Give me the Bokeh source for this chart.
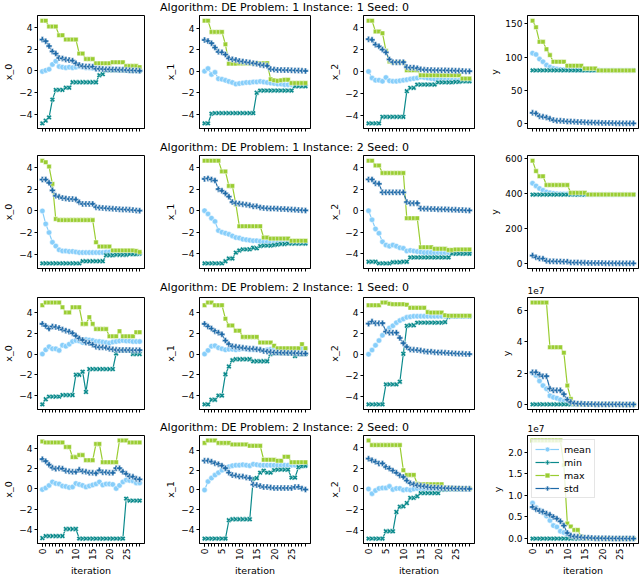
import numpy as np
from bokeh.plotting import figure
from bokeh.models import Range1d, FixedTicker, Label
from bokeh.layouts import column, row
from bokeh.embed import file_html
from bokeh.resources import INLINE

FONT = "DejaVu Sans"

iterations = [0, 1, 2, 3, 4, 5, 6, 7, 8, 9, 10, 11, 12, 13, 14, 15, 16, 17, 18, 19,
              20, 21, 22, 23, 24, 25, 26, 27, 28, 29]
x_tick_labels = ["0", "5", "10", "15", "20", "25"]
series_names = ["mean", "min", "max", "std"]
series_colors = ["#87cefa", "#0b8a8c", "#9acd32", "#1f6aa8"]
row_titles = ["Algorithm: DE Problem: 1 Instance: 1 Seed: 0",
              "Algorithm: DE Problem: 1 Instance: 2 Seed: 0",
              "Algorithm: DE Problem: 2 Instance: 1 Seed: 0",
              "Algorithm: DE Problem: 2 Instance: 2 Seed: 0"]
y_labels = ["x_0", "x_1", "x_2", "y"]

# ---------------- Row 1: Problem 1, Instance 1 ----------------
r1_x0_mean = [-0.05, 0.05, 0.15, 0.6, 0.9, 0.4, 0.35, 0.3, 0.35, 0.3,
              0.35, 0.4, 0.35, 0.3, 0.3, 0.25, 0.2, 0.2, 0.18, 0.16,
              0.15, 0.15, 0.14, 0.13, 0.12, 0.12, 0.1, 0.1, 0.1, 0.08]
r1_x0_min = [-4.85, -4.6, -4.3, -2.65, -1.75, -1.75, -1.75, -1.55, -1.55, -1.05,
             -1.05, -1.05, -1.05, -1.05, -1.05, -1.05, -1.05, -0.4, -0.3, 0.05,
             0.05, 0.05, 0.05, 0.05, 0.05, 0.04, 0.04, 0.03, 0.03, 0.02]
r1_x0_max = [4.65, 4.65, 4.1, 4.1, 4.1, 3.3, 3.3, 2.9, 2.9, 2.9,
             2.9, 1.6, 1.6, 1.1, 1.1, 1.1, 0.7, 0.7, 0.7, 0.7,
             0.7, 0.8, 0.8, 0.8, 0.8, 0.45, 0.45, 0.45, 0.45, 0.35]
r1_x0_std = [2.9, 2.75, 2.3, 1.8, 1.6, 1.2, 1.15, 1.05, 1.0, 0.95,
             0.7, 0.55, 0.45, 0.4, 0.4, 0.38, 0.2, 0.2, 0.18, 0.15,
             0.15, 0.12, 0.12, 0.1, 0.1, 0.08, 0.06, 0.05, 0.03, 0.01]

r1_x1_mean = [0.0, 0.25, -0.3, -0.1, -0.7, -0.75, -0.85, -0.95, -1.05, -1.2,
              -1.15, -1.1, -1.05, -1.05, -1.0, -1.0, -0.95, -1.0, -1.05, -1.1,
              -1.15, -1.2, -1.2, -1.25, -1.25, -1.25, -1.3, -1.3, -1.3, -1.3]
r1_x1_min = [-4.85, -4.85, -3.95, -3.9, -3.9, -3.9, -3.9, -3.9, -3.9, -3.9,
             -3.9, -3.9, -3.9, -3.9, -3.9, -2.0, -1.8, -1.8, -1.8, -1.8,
             -1.8, -1.8, -1.8, -1.8, -1.8, -1.8, -1.4, -1.4, -1.4, -1.4]
r1_x1_max = [4.7, 4.7, 3.65, 3.65, 3.65, 3.65, 2.5, 0.7, 0.7, 0.7,
             0.72, 0.72, 0.72, 0.72, 0.75, 0.75, 0.75, 0.75, 0.75, -0.75,
             -0.85, -0.9, -0.85, -0.8, -0.8, -1.1, -1.1, -1.1, -1.1, -1.1]
r1_x1_std = [2.9, 2.8, 2.6, 2.2, 1.8, 1.75, 1.55, 1.2, 1.1, 1.05,
             0.95, 0.9, 0.85, 0.8, 0.75, 0.7, 0.6, 0.55, 0.5, 0.2,
             0.15, 0.12, 0.12, 0.1, 0.1, 0.08, 0.07, 0.06, 0.04, 0.02]

r1_x2_mean = [0.0, -0.6, -0.8, -0.8, -0.9, -0.55, -0.85, -0.9, -0.9, -0.85,
              -0.8, -0.75, -0.7, -0.65, -0.6, -0.5, -0.55, -0.6, -0.65, -0.7,
              -0.72, -0.75, -0.78, -0.8, -0.8, -0.82, -0.83, -0.85, -0.85, -0.85]
r1_x2_min = [-4.75, -4.75, -4.75, -4.75, -4.15, -4.15, -4.15, -4.15, -4.15, -4.15,
             -4.15, -1.8, -1.5, -1.5, -1.2, -1.2, -1.2, -1.2, -1.2, -1.2,
             -1.0, -1.0, -1.0, -1.0, -1.0, -0.95, -0.95, -0.9, -0.9, -0.9]
r1_x2_max = [4.65, 4.65, 3.65, 3.65, 3.5, 1.9, 0.9, 0.85, 0.85, 0.85,
             0.85, 0.1, 0.1, 0.1, 0.1, -0.35, -0.35, -0.35, -0.35, -0.35,
             -0.35, -0.35, -0.35, -0.35, -0.35, -0.35, -0.35, -0.65, -0.65, -0.65]
r1_x2_std = [2.95, 2.9, 2.45, 2.3, 2.0, 1.75, 1.1, 0.85, 0.85, 0.85,
             0.85, 0.4, 0.35, 0.35, 0.3, 0.2, 0.15, 0.14, 0.13, 0.12,
             0.12, 0.1, 0.1, 0.09, 0.08, 0.07, 0.06, 0.05, 0.03, 0.02]

r1_y_mean = [106, 104, 97, 93, 88, 85, 83, 82, 81.5, 81,
             80.8, 80.6, 80.5, 80.4, 80.3, 80.3, 80.2, 80.2, 80.1, 80.1,
             80, 80, 80, 80, 80, 80, 80, 80, 80, 80]
r1_y_min = [80, 80, 80, 80, 80, 80, 80, 80, 80, 80,
            80, 80, 80, 80, 80, 80, 80, 80, 80, 80,
            80, 80, 80, 80, 80, 80, 80, 80, 80, 80]
r1_y_max = [155, 145, 123, 123, 112, 103, 93, 93, 93, 93,
            87, 87, 87, 87, 87, 83, 83, 83, 83, 80,
            80, 80, 80, 80, 80, 80, 80, 80, 80, 80]
r1_y_std = [16, 15, 11, 10, 9, 7, 5, 4, 4, 3.5,
            3, 2.8, 2.5, 2.2, 2, 1.8, 1.5, 1.3, 1.2, 1,
            0.8, 0.7, 0.6, 0.5, 0.4, 0.3, 0.3, 0.2, 0.1, 0.1]

# ---------------- Row 2: Problem 1, Instance 2 ----------------
r2_x0_mean = [0.0, -1.2, -2.0, -2.9, -3.25, -3.6, -3.7, -3.7, -3.75, -3.75,
              -3.8, -3.85, -3.85, -3.85, -3.85, -3.85, -3.85, -3.85, -3.85, -3.8,
              -3.8, -3.85, -3.85, -3.9, -3.9, -3.9, -3.9, -3.95, -3.95, -3.95]
r2_x0_min = [-4.85, -4.85, -4.85, -4.85, -4.85, -4.85, -4.85, -4.85, -4.85, -4.85,
             -4.85, -4.85, -4.65, -4.65, -4.65, -4.65, -4.65, -4.65, -4.65, -4.1,
             -4.1, -4.1, -4.05, -4.05, -4.05, -4.05, -4.0, -4.0, -4.0, -3.95]
r2_x0_max = [4.65, 4.5, 4.1, 2.5, -0.75, -0.85, -0.85, -0.85, -0.85, -0.85,
             -0.85, -0.85, -0.85, -0.85, -0.85, -0.85, -2.9, -3.3, -3.3, -3.3,
             -3.3, -3.65, -3.65, -3.65, -3.65, -3.65, -3.65, -3.65, -3.7, -3.8]
r2_x0_std = [2.9, 2.9, 2.6, 1.9, 1.4, 1.3, 1.2, 1.15, 1.1, 1.1,
             1.05, 0.8, 0.65, 0.65, 0.65, 0.65, 0.35, 0.3, 0.28, 0.25,
             0.22, 0.2, 0.18, 0.16, 0.14, 0.12, 0.1, 0.08, 0.05, 0.02]

r2_x1_mean = [0.0, -0.3, -0.7, -1.0, -1.85, -2.0, -2.1, -2.2, -2.35, -2.5,
              -2.55, -2.65, -2.7, -2.75, -2.8, -2.8, -2.85, -2.9, -2.9, -2.9,
              -2.92, -2.95, -2.95, -2.95, -2.95, -2.97, -3.0, -3.0, -3.0, -3.0]
r2_x1_min = [-4.9, -4.9, -4.9, -4.9, -4.9, -4.9, -4.7, -4.45, -4.45, -3.9,
             -3.7, -3.6, -3.6, -3.6, -3.45, -3.5, -3.3, -3.25, -3.25, -3.25,
             -3.2, -3.15, -3.1, -3.1, -3.05, -3.05, -3.05, -3.05, -3.05, -3.05]
r2_x1_max = [4.65, 4.65, 4.65, 4.65, 4.65, 3.65, 3.65, 2.3, 2.3, 0.6,
             -1.45, -1.45, -1.45, -1.45, -1.45, -1.45, -1.45, -2.5, -2.5, -2.6,
             -2.6, -2.6, -2.6, -2.6, -2.6, -2.8, -2.8, -2.8, -2.8, -2.8]
r2_x1_std = [2.95, 3.0, 2.9, 2.8, 2.0, 1.85, 1.6, 1.3, 0.8, 0.7,
             0.65, 0.6, 0.55, 0.5, 0.4, 0.4, 0.3, 0.25, 0.22, 0.2,
             0.2, 0.18, 0.16, 0.15, 0.12, 0.1, 0.08, 0.06, 0.04, 0.02]

r2_x2_mean = [0.0, -0.85, -1.7, -2.1, -2.9, -3.2, -3.3, -3.2, -3.3, -3.45,
              -3.5, -3.75, -3.7, -3.75, -3.8, -3.85, -3.9, -3.9, -3.9, -3.9,
              -3.9, -3.9, -3.9, -3.9, -3.9, -3.92, -3.93, -3.95, -3.95, -3.95]
r2_x2_min = [-4.75, -4.75, -4.75, -4.9, -4.9, -4.9, -4.9, -4.8, -4.8, -4.8,
             -4.75, -4.75, -4.35, -4.35, -4.35, -4.35, -4.35, -4.35, -4.35, -4.35,
             -4.35, -4.35, -4.35, -4.35, -4.0, -4.0, -4.0, -4.0, -4.0, -4.0]
r2_x2_max = [4.65, 4.65, 4.2, 4.2, 3.5, 3.5, 3.5, 3.5, 3.5, 3.5,
             3.5, -0.7, -0.7, -0.7, -0.7, -3.4, -3.4, -3.4, -3.4, -3.55,
             -3.55, -3.55, -3.55, -3.65, -3.65, -3.6, -3.6, -3.6, -3.6, -3.6]
r2_x2_std = [2.9, 2.9, 2.55, 2.5, 1.7, 1.7, 1.7, 1.7, 1.7, 1.7,
             1.7, 0.8, 0.7, 0.7, 0.7, 0.2, 0.18, 0.17, 0.16, 0.15,
             0.14, 0.13, 0.12, 0.1, 0.09, 0.08, 0.06, 0.05, 0.03, 0.02]

r2_y_mean = [460, 445, 430, 420, 410, 405, 402, 400, 399, 398,
             398, 397, 397, 396, 396, 396, 395.5, 395.5, 395.5, 395.3,
             395.3, 395.2, 395.2, 395.1, 395.1, 395, 395, 395, 395, 395]
r2_y_min = [395, 395, 395, 395, 395, 395, 395, 395, 395, 395,
            395, 395, 395, 395, 395, 395, 395, 395, 395, 395,
            395, 395, 395, 395, 395, 395, 395, 395, 395, 395]
r2_y_max = [590, 530, 500, 500, 450, 450, 450, 450, 450, 450,
            450, 405, 405, 405, 405, 405, 395, 395, 395, 395,
            395, 395, 395, 395, 395, 395, 395, 395, 395, 395]
r2_y_std = [45, 35, 28, 27, 15, 12, 12, 11, 11, 10,
            10, 5, 5, 4.5, 4, 3, 2.5, 2, 2, 1.8,
            1.5, 1.2, 1, 1, 0.8, 0.6, 0.5, 0.4, 0.2, 0.1]

# ---------------- Row 3: Problem 2, Instance 1 ----------------
r3_x0_mean = [0.0, 0.4, 0.7, 0.5, 0.5, 0.35, 0.85, 0.75, 0.95, 1.2,
              1.3, 1.25, 1.1, 1.4, 1.35, 1.3, 1.2, 1.2, 1.15, 1.1,
              1.05, 1.15, 1.2, 1.25, 1.3, 1.25, 1.25, 1.2, 1.2, 1.2]
r3_x0_min = [-4.85, -4.35, -4.1, -4.1, -4.1, -4.1, -3.95, -3.95, -3.95, -3.95,
             -2.0, -2.0, -1.7, -3.65, -1.45, -1.45, -1.45, -1.45, -1.45, -1.45,
             -1.45, -1.45, 0.05, 0.35, 0.35, 0.35, 0.35, 0.0, 0.0, 0.0]
r3_x0_max = [4.7, 4.95, 4.95, 4.95, 4.95, 4.95, 4.5, 4.0, 4.0, 4.5,
             4.5, 4.5, 2.9, 2.9, 3.55, 2.9, 2.4, 2.4, 2.4, 2.4,
             1.7, 1.7, 1.7, 2.2, 1.7, 1.7, 1.7, 1.7, 2.1, 2.1]
r3_x0_std = [2.9, 2.7, 2.45, 2.65, 2.6, 2.5, 2.35, 2.25, 2.15, 2.0,
             1.75, 1.5, 1.35, 1.1, 1.05, 0.9, 0.7, 0.65, 0.65, 0.6,
             0.5, 0.45, 0.4, 0.38, 0.38, 0.38, 0.38, 0.37, 0.37, 0.37]

r3_x1_mean = [0.0, 0.35, 0.75, 0.8, 0.6, 0.5, 0.4, 0.45, 0.45, 0.4,
              0.45, 0.5, 0.45, 0.4, 0.4, 0.45, 0.4, 0.35, 0.4, 0.45,
              0.5, 0.5, 0.5, 0.5, 0.5, 0.5, 0.5, 0.5, 0.5, 0.5]
r3_x1_min = [-4.85, -4.85, -4.4, -4.4, -4.0, -4.0, -1.95, -1.2, -0.6, -0.5,
             -0.5, -0.5, -0.5, -0.5, -0.7, -0.7, -0.7, -0.7, -0.7, 0.0,
             0.1, 0.1, 0.1, 0.1, 0.1, 0.1, -0.2, 0.0, 0.0, 0.0]
r3_x1_max = [4.7, 4.95, 4.95, 4.7, 4.7, 4.7, 3.4, 2.75, 2.75, 2.25,
             2.25, 1.65, 1.65, 1.65, 1.65, 1.65, 1.1, 1.1, 1.1, 1.1,
             0.8, 0.55, 0.55, 0.55, 0.55, 0.55, 0.55, 0.55, 0.95, 0.55]
r3_x1_std = [2.9, 2.65, 2.45, 2.2, 2.05, 1.9, 1.3, 0.95, 0.75, 0.7,
             0.65, 0.6, 0.55, 0.5, 0.5, 0.45, 0.4, 0.3, 0.25, 0.2,
             0.15, 0.14, 0.13, 0.12, 0.11, 0.1, 0.09, 0.08, 0.06, 0.05]

r3_x2_mean = [0.0, 0.4, 0.85, 1.3, 1.8, 2.2, 2.5, 2.7, 3.0, 3.2,
              3.35, 3.5, 3.55, 3.6, 3.6, 3.6, 3.6, 3.6, 3.6, 3.6,
              3.6, 3.6, 3.6, 3.6, 3.6, 3.6, 3.6, 3.6, 3.6, 3.6]
r3_x2_min = [-4.75, -4.75, -4.75, -4.75, -4.75, -2.85, -2.85, -2.85, -2.85, -2.6,
             0.05, 2.7, 2.75, 2.75, 3.0, 3.0, 3.0, 3.0, 3.0, 3.0,
             3.0, 3.0, 3.05, 3.55, 3.6, 3.6, 3.6, 3.6, 3.6, 3.6]
r3_x2_max = [4.65, 4.65, 4.65, 4.65, 4.9, 4.9, 4.8, 4.75, 4.75, 4.75,
             4.75, 4.7, 4.4, 4.4, 4.4, 4.4, 4.4, 4.0, 3.95, 3.95,
             3.95, 3.95, 3.7, 3.65, 3.65, 3.65, 3.65, 3.65, 3.65, 3.65]
r3_x2_std = [2.9, 3.1, 2.95, 2.95, 2.95, 2.15, 2.05, 2.05, 2.05, 1.55,
             1.05, 0.7, 0.45, 0.42, 0.4, 0.35, 0.3, 0.25, 0.25, 0.2,
             0.18, 0.16, 0.14, 0.12, 0.1, 0.08, 0.06, 0.05, 0.03, 0.02]

r3_y_mean = [2.0e7, 1.85e7, 1.5e7, 1.2e7, 1.0e7, 5.5e6, 4.5e6, 4.0e6, 3.0e6, 2.0e6,
             1.0e6, 5.0e5, 3.0e5, 2.0e5, 1.0e5, 1.0e5, 8.0e4, 6.0e4, 5.0e4, 4.0e4,
             3.0e4, 2.0e4, 2.0e4, 1.0e4, 1.0e4, 1.0e4, 5.0e3, 5.0e3, 5.0e3, 5.0e3]
r3_y_min = [0, 0, 0, 0, 0, 0, 0, 0, 0, 0,
            0, 0, 0, 0, 0, 0, 0, 0, 0, 0,
            0, 0, 0, 0, 0, 0, 0, 0, 0, 0]
r3_y_max = [6.5e7, 6.5e7, 6.5e7, 6.5e7, 6.5e7, 3.65e7, 3.65e7, 3.65e7, 3.65e7, 3.3e7,
            1.2e7, 3.5e6, 5.0e5, 3.0e5, 2.0e5, 2.0e5, 1.0e5, 1.0e5, 1.0e5, 1.0e5,
            5.0e4, 5.0e4, 5.0e4, 3.0e4, 3.0e4, 3.0e4, 2.0e4, 2.0e4, 2.0e4, 2.0e4]
r3_y_std = [2.05e7, 2.05e7, 1.9e7, 1.8e7, 1.8e7, 1.0e7, 9.0e6, 9.0e6, 9.0e6, 6.5e6,
            3.0e6, 1.5e6, 8.0e5, 5.0e5, 4.0e5, 3.0e5, 2.0e5, 2.0e5, 1.5e5, 1.0e5,
            8.0e4, 6.0e4, 5.0e4, 4.0e4, 3.0e4, 3.0e4, 2.0e4, 2.0e4, 1.0e4, 1.0e4]

# ---------------- Row 4: Problem 2, Instance 2 ----------------
r4_x0_mean = [-0.05, 0.1, 0.35, 0.7, 0.55, 0.5, 0.3, 0.25, 0.15, 0.2,
              0.55, 0.45, 0.35, 0.2, 0.3, 0.4, 0.5, 0.7, 0.4, 0.5,
              0.5, 0.45, 0.05, 0.35, 0.7, 0.9, 0.85, 0.8, 0.6, 0.6]
r4_x0_min = [-4.85, -4.65, -4.65, -4.65, -4.65, -4.65, -4.65, -3.95, -3.95, -3.95,
             -3.95, -4.9, -4.9, -4.9, -4.9, -4.9, -4.9, -4.9, -4.9, -4.9,
             -4.9, -4.9, -4.9, -4.9, -4.9, -0.95, -1.15, -1.15, -1.15, -1.15]
r4_x0_max = [4.7, 4.6, 4.6, 4.6, 4.6, 4.6, 4.6, 4.15, 4.15, 3.15,
             3.15, 3.35, 3.35, 2.85, 2.85, 2.85, 4.45, 4.45, 2.65, 2.65,
             2.65, 2.65, 2.65, 4.8, 4.8, 4.8, 4.6, 4.6, 4.6, 4.6]
r4_x0_std = [2.95, 2.75, 2.4, 2.1, 2.0, 2.05, 2.0, 1.8, 1.75, 1.7,
             1.7, 1.9, 1.75, 1.7, 1.6, 1.6, 1.55, 1.85, 1.65, 1.65,
             1.6, 1.6, 2.05, 2.05, 1.7, 1.5, 1.25, 1.2, 1.0, 0.95]

r4_x1_mean = [0.0, 0.85, 1.2, 1.5, 1.75, 2.0, 2.15, 2.35, 2.45, 2.5,
              2.5, 2.55, 2.5, 2.45, 2.6, 2.55, 2.5, 2.5, 2.5, 2.5,
              2.5, 2.5, 2.5, 2.5, 2.5, 2.5, 2.5, 2.5, 2.45, 2.45]
r4_x1_min = [-4.9, -4.9, -4.9, -4.9, -4.9, -4.9, -4.9, -3.05, -2.95, -2.95,
             -2.95, -2.95, -2.95, -2.95, 1.15, 1.2, 1.75, 1.95, 1.75, 1.75,
             2.0, 2.05, 2.05, 2.05, 2.05, 1.25, 1.25, 2.3, 2.4, 2.45]
r4_x1_max = [4.75, 5.0, 5.0, 5.0, 4.75, 4.75, 4.75, 4.75, 4.6, 4.6,
             4.6, 4.6, 4.6, 4.45, 4.45, 4.45, 4.45, 3.05, 3.05, 3.05,
             3.05, 2.95, 2.95, 3.35, 3.35, 2.8, 2.8, 2.8, 2.8, 2.8]
r4_x1_std = [2.95, 2.95, 2.85, 2.7, 2.6, 2.45, 2.2, 1.75, 1.5, 1.45,
             1.35, 1.35, 1.25, 1.2, 0.55, 0.5, 0.4, 0.3, 0.3, 0.25,
             0.2, 0.2, 0.2, 0.2, 0.2, 0.2, 0.3, 0.3, 0.15, 0.05]

r4_x2_mean = [0.0, -0.45, -0.15, 0.05, 0.1, 0.1, 0.25, -0.05, 0.05, 0.05,
              -0.1, -0.05, -0.1, 0.0, 0.05, 0.05, 0.0, 0.0, 0.0, 0.0,
              0.0, 0.0, 0.0, 0.0, 0.0, 0.0, 0.0, 0.0, 0.0, 0.0]
r4_x2_min = [-4.75, -4.75, -4.75, -4.75, -4.75, -4.05, -4.05, -4.05, -2.2, -1.7,
             -1.65, -1.35, -0.85, -0.85, -0.7, -0.4, -0.4, -0.4, -0.4, -0.4,
             -0.4, -0.05, -0.05, -0.04, -0.04, -0.03, -0.03, -0.02, -0.02, -0.01]
r4_x2_max = [4.65, 4.2, 4.2, 4.2, 4.2, 4.2, 4.2, 4.2, 4.2, 4.2,
             1.8, 1.35, 1.35, 1.35, 0.5, 0.45, 0.45, 0.45, 0.45, 0.45,
             0.45, 0.45, 0.12, 0.1, 0.1, 0.08, 0.08, 0.06, 0.05, 0.05]
r4_x2_std = [2.9, 2.75, 2.6, 2.45, 2.45, 2.1, 1.95, 1.75, 1.55, 1.3,
             1.15, 0.8, 0.55, 0.45, 0.35, 0.3, 0.25, 0.2, 0.15, 0.14,
             0.12, 0.1, 0.08, 0.07, 0.06, 0.05, 0.04, 0.03, 0.02, 0.01]

r4_y_mean = [8.2e6, 7.2e6, 6.6e6, 6.0e6, 5.2e6, 4.2e6, 3.0e6, 2.7e6, 1.7e6, 1.4e6,
             8.0e5, 4.0e5, 3.0e5, 2.0e5, 1.5e5, 1.0e5, 1.0e5, 1.0e5, 5.0e4, 5.0e4,
             3.0e4, 3.0e4, 2.0e4, 2.0e4, 1.0e4, 1.0e4, 1.0e4, 5.0e3, 5.0e3, 5.0e3]
r4_y_min = [0, 0, 0, 0, 0, 0, 0, 0, 0, 0,
            0, 0, 0, 0, 0, 0, 0, 0, 0, 0,
            0, 0, 0, 0, 0, 0, 0, 0, 0, 0]
r4_y_max = [2.27e7, 2.27e7, 2.27e7, 2.27e7, 2.27e7, 2.27e7, 2.27e7, 2.27e7, 2.27e7, 1.7e7,
            3.5e6, 2.8e6, 2.0e6, 2.0e6, 5.0e5, 2.0e5, 1.0e5, 1.0e5, 1.0e5, 5.0e4,
            5.0e4, 5.0e4, 3.0e4, 3.0e4, 3.0e4, 2.0e4, 2.0e4, 2.0e4, 1.0e4, 1.0e4]
r4_y_std = [7.3e6, 6.8e6, 6.4e6, 6.2e6, 5.8e6, 5.5e6, 5.0e6, 4.6e6, 4.0e6, 3.0e6,
            1.3e6, 7.0e5, 5.0e5, 4.0e5, 3.0e5, 2.0e5, 2.0e5, 1.5e5, 1.0e5, 1.0e5,
            8.0e4, 6.0e4, 5.0e4, 4.0e4, 3.0e4, 3.0e4, 2.0e4, 2.0e4, 1.0e4, 1.0e4]

panel_data = [
    [(r1_x0_mean, r1_x0_min, r1_x0_max, r1_x0_std),
     (r1_x1_mean, r1_x1_min, r1_x1_max, r1_x1_std),
     (r1_x2_mean, r1_x2_min, r1_x2_max, r1_x2_std),
     (r1_y_mean, r1_y_min, r1_y_max, r1_y_std)],
    [(r2_x0_mean, r2_x0_min, r2_x0_max, r2_x0_std),
     (r2_x1_mean, r2_x1_min, r2_x1_max, r2_x1_std),
     (r2_x2_mean, r2_x2_min, r2_x2_max, r2_x2_std),
     (r2_y_mean, r2_y_min, r2_y_max, r2_y_std)],
    [(r3_x0_mean, r3_x0_min, r3_x0_max, r3_x0_std),
     (r3_x1_mean, r3_x1_min, r3_x1_max, r3_x1_std),
     (r3_x2_mean, r3_x2_min, r3_x2_max, r3_x2_std),
     (r3_y_mean, r3_y_min, r3_y_max, r3_y_std)],
    [(r4_x0_mean, r4_x0_min, r4_x0_max, r4_x0_std),
     (r4_x1_mean, r4_x1_min, r4_x1_max, r4_x1_std),
     (r4_x2_mean, r4_x2_min, r4_x2_max, r4_x2_std),
     (r4_y_mean, r4_y_min, r4_y_max, r4_y_std)],
]

# y tick positions and labels
xvar_ticks = [-4, -2, 0, 2, 4]
xvar_tick_labels = ["\u22124", "\u22122", "0", "2", "4"]
y_ticks_rows = [[0, 50, 100, 150],
                [0, 200, 400, 600],
                [0, 20000000, 40000000, 60000000],
                [0, 5000000, 10000000, 15000000, 20000000]]
y_tick_labels_rows = [["0", "50", "100", "150"],
                      ["0", "200", "400", "600"],
                      ["0", "2", "4", "6"],
                      ["0.0", "0.5", "1.0", "1.5", "2.0"]]
y_offset_text = [None, None, "1e7", "1e7"]

# ---------------- layout (pixels) ----------------
COL_L = [33, 54, 52, 52]
COL_R = [1, 1, 1, 2]
FRAME_W = 111
COL_W = [COL_L[i] + FRAME_W + COL_R[i] for i in range(4)]
ROW_T = [2, 2, 1, 1]
ROW_B = [12, 12, 11, 30]
FRAME_HS = [113, 113, 112, 113]
ROW_H = [ROW_T[i] + FRAME_HS[i] + ROW_B[i] for i in range(4)]
TITLE_HS = [13, 13, 16, 14]
TOTAL_W = sum(COL_W)
TITLE_CX = 284

markers = [dict(marker="circle", size=5.5, angle=0.0),
           dict(marker="plus", size=5.5, angle=np.pi / 4),
           dict(marker="square", size=4.5, angle=0.0),
           dict(marker="plus", size=6, angle=0.0)]


def style_axes(p, last_row):
    p.xgrid.visible = False
    p.ygrid.visible = False
    p.outline_line_color = "black"
    p.outline_line_width = 1
    p.background_fill_color = "white"
    p.border_fill_color = "white"
    for ax in (p.xaxis, p.yaxis):
        ax.axis_line_color = "black"
        ax.axis_line_width = 1
        ax.major_tick_line_color = "black"
        ax.major_tick_out = 3
        ax.major_tick_in = 0
        ax.minor_tick_line_color = None
        ax.major_label_text_font = FONT
        ax.major_label_text_font_size = "9px"
        ax.major_label_text_color = "black"
        ax.axis_label_text_font = FONT
        ax.axis_label_text_font_size = "9.5px"
        ax.axis_label_text_font_style = "normal"
        ax.axis_label_text_color = "black"
        ax.major_label_standoff = 2
        ax.axis_label_standoff = 2
    labelled = [int(t) for t in x_tick_labels] if last_row else []
    p.xaxis.ticker = FixedTicker(ticks=labelled, minor_ticks=iterations)
    p.xaxis.minor_tick_line_color = "black"
    p.xaxis.minor_tick_out = 3
    p.xaxis.minor_tick_in = 0
    if last_row:
        p.xaxis.major_label_overrides = {int(t): t for t in x_tick_labels}
        p.xaxis.major_label_orientation = np.pi / 2
        p.xaxis.axis_label = "iteration"


def make_panel(ri, ci):
    series = panel_data[ri][ci]
    allv = [v for s in series for v in s]
    lo, hi = min(allv), max(allv)
    pad = 0.05 * (hi - lo)
    xpad = 0.05 * (iterations[-1] - iterations[0])
    p = figure(width=COL_W[ci], height=ROW_H[ri],
               x_range=Range1d(iterations[0] - xpad, iterations[-1] + xpad),
               y_range=Range1d(lo - pad, hi + pad),
               toolbar_location=None, output_backend="svg",
               min_border_left=COL_L[ci], min_border_right=COL_R[ci],
               min_border_top=ROW_T[ri], min_border_bottom=ROW_B[ri])
    style_axes(p, ri == 3)
    if ci < 3:
        ticks, labels = xvar_ticks, xvar_tick_labels
    else:
        ticks, labels = y_ticks_rows[ri], y_tick_labels_rows[ri]
    p.yaxis.ticker = FixedTicker(ticks=ticks)
    p.yaxis.major_label_overrides = {t: l for t, l in zip(ticks, labels)}
    p.yaxis.axis_label = y_labels[ci]
    with_legend = (ri == 3 and ci == 3)
    for k, vals in enumerate(series):
        kw = {"legend_label": series_names[k]} if with_legend else {}
        p.line(iterations, vals, line_color=series_colors[k], line_width=1.2, **kw)
        p.scatter(iterations, vals, marker=markers[k]["marker"], size=markers[k]["size"],
                  angle=markers[k]["angle"], fill_color=series_colors[k],
                  line_color="white", line_width=0.5, **kw)
    if with_legend:
        lg = p.legend[0]
        lg.location = "top_left"
        lg.label_text_font = FONT
        lg.label_text_font_size = "9.5px"
        lg.label_text_color = "black"
        lg.glyph_width = 24
        lg.glyph_height = 12
        lg.label_height = 12
        lg.label_standoff = 5
        lg.spacing = 1
        lg.padding = 3
        lg.margin = 4
        lg.border_line_color = "#cccccc"
        lg.background_fill_alpha = 0.8
    return p


def make_title(ri):
    h = TITLE_HS[ri]
    t = figure(width=TOTAL_W, height=h, x_range=Range1d(0, TOTAL_W), y_range=Range1d(0, h),
               toolbar_location=None, output_backend="svg", x_axis_location=None, y_axis_location=None,
               min_border=0, min_border_left=0, min_border_right=0, min_border_top=0, min_border_bottom=0)
    t.grid.visible = False
    t.outline_line_color = None
    t.add_layout(Label(x=TITLE_CX, y=h - 7, text=row_titles[ri], text_align="center",
                       text_baseline="middle", text_font=FONT, text_font_size="11px",
                       text_color="black"))
    if y_offset_text[ri]:
        x0 = sum(COL_W[:3]) + COL_L[3]
        t.add_layout(Label(x=x0, y=3, text=y_offset_text[ri], text_align="left",
                           text_baseline="bottom", text_font=FONT, text_font_size="9px",
                           text_color="black"))
    return t


children = []
for ri in range(4):
    children.append(make_title(ri))
    children.append(row([make_panel(ri, ci) for ci in range(4)], spacing=0))

layout = column(children, spacing=0)
open("out.html", "w").write(file_html(layout, INLINE))
